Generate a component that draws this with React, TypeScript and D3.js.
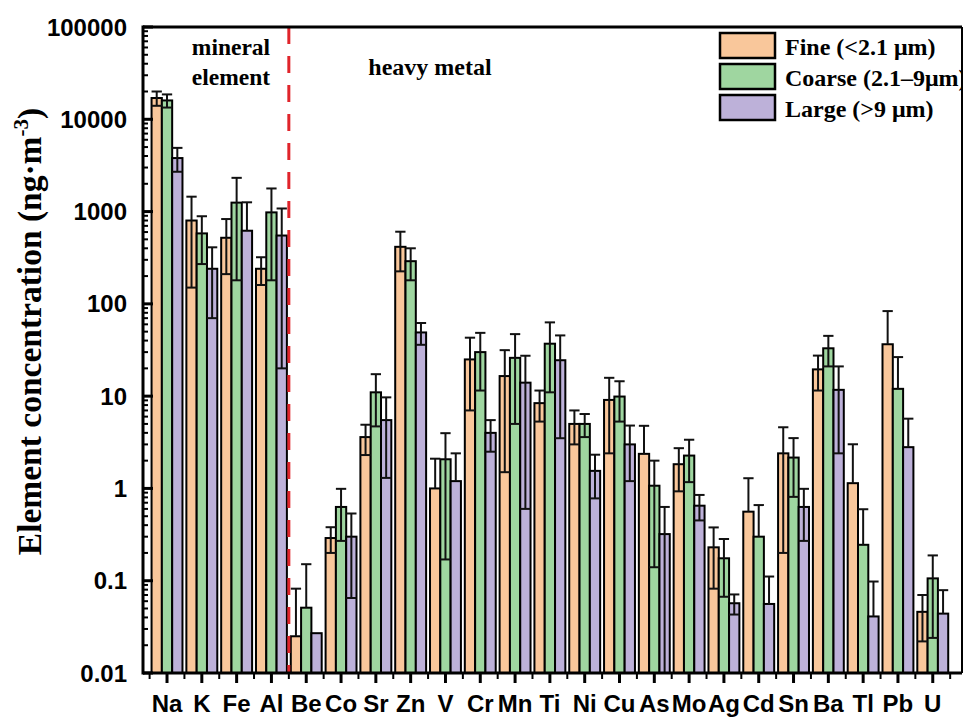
import React from 'react';
import * as d3 from 'd3';

const elements = ['Na', 'K', 'Fe', 'Al', 'Be', 'Co', 'Sr', 'Zn', 'V', 'Cr', 'Mn', 'Ti', 'Ni', 'Cu', 'As', 'Mo', 'Ag', 'Cd', 'Sn', 'Ba', 'Tl', 'Pb', 'U'];

const fineMean = [17000, 800, 520, 240, 0.025, 0.29, 3.6, 415, 1.0, 25, 16.5, 8.4, 5.0, 9.1, 2.37, 1.83, 0.23, 0.56, 2.4, 19.5, 1.14, 36.5, 0.046];
const fineErr = [3000, 650, 310, 80, 0.057, 0.09, 1.3, 190, 1.1, 18, 15, 3.1, 2, 6.7, 2.4, 0.9, 0.148, 0.73, 2.2, 8, 1.87, 47, 0.024];

const coarseMean = [16000, 580, 1250, 980, 0.051, 0.63, 11, 290, 2.07, 30, 26, 37, 5.0, 9.9, 1.07, 2.27, 0.175, 0.3, 2.16, 33, 0.245, 12, 0.106];
const coarseErr = [2600, 310, 1070, 800, 0.1, 0.36, 6.3, 110, 1.9, 18.5, 21, 26, 1.4, 4.6, 0.93, 1.1, 0.108, 0.36, 1.35, 12, 0.35, 14.5, 0.082];

const largeMean = [3800, 240, 620, 550, 0.027, 0.3, 5.5, 49, 1.2, 4.0, 14, 24.5, 1.55, 3.0, 0.32, 0.65, 0.057, 0.056, 0.63, 11.7, 0.041, 2.8, 0.044];
const largeErr = [1100, 170, 640, 530, 0, 0.235, 4.2, 13, 1.2, 1.5, 13.4, 21, 0.77, 1.8, 0.31, 0.2, 0.014, 0.055, 0.36, 9.3, 0.057, 2.9, 0.035];

const seriesNames = ['Fine (<2.1 μm)', 'Coarse (2.1–9μm)', 'Large (>9 μm)'];
const seriesColors = ['#F9C79B', '#9FD6A0', '#BDB1D9'];
const yTicks = [0.01, 0.1, 1, 10, 100, 1000, 10000, 100000];
const yTickLabels = ['0.01', '0.1', '1', '10', '100', '1000', '10000', '100000'];

const W = 967;
const H = 718;
const left = 143;
const right = 962;
const top = 27;
const bottom = 673;

const series = [
  { mean: fineMean, err: fineErr },
  { mean: coarseMean, err: coarseErr },
  { mean: largeMean, err: largeErr },
];

const App = () => {
  const x = d3.scaleLinear().domain([0.31, 23.84]).range([left, right]);
  const y = d3.scaleLog().domain([0.01, 100000]).range([bottom, top]);
  const step = x(2) - x(1);
  const bw = step * 0.296;

  const minorY: number[] = [];
  for (let e = -2; e < 5; e++) {
    for (let m = 2; m < 10; m++) minorY.push(m * Math.pow(10, e));
  }
  const minorX = d3.range(0.5, 24, 1).filter(v => v > 0.31 && v < 23.84);

  const serif = '"Liberation Serif", "Times New Roman", serif';
  const sans = '"Liberation Sans", Arial, sans-serif';

  return (
    <svg width={W} height={H} style={{ position: 'absolute', left: 0, top: 0, background: '#fff' }}>
      <defs>
        <clipPath id="plot">
          <rect x={left} y={top} width={right - left} height={bottom - top} />
        </clipPath>
      </defs>

      {/* bars and error bars */}
      <g clipPath="url(#plot)">
        {series.map((s, si) =>
          elements.map((el, i) => {
            const cx = x(i + 1) + (si - 1) * bw;
            const yv = y(s.mean[i]);
            return (
              <rect key={`b${si}-${el}`} x={cx - bw / 2} y={yv} width={bw} height={bottom - yv}
                fill={seriesColors[si]} stroke="#000" strokeWidth={2} />
            );
          })
        )}
        {series.map((s, si) =>
          elements.map((el, i) => {
            if (!s.err[i]) return null;
            const cx = x(i + 1) + (si - 1) * bw;
            const hi = y(s.mean[i] + s.err[i]);
            const lowVal = s.mean[i] - s.err[i];
            const yv = y(s.mean[i]);
            const cap = bw * 0.5;
            return (
              <g key={`e${si}-${el}`} stroke="#111" strokeWidth={2}>
                <line x1={cx} x2={cx} y1={yv} y2={hi} />
                <line x1={cx - cap} x2={cx + cap} y1={hi} y2={hi} />
                {lowVal > 0.01 && (
                  <>
                    <line x1={cx} x2={cx} y1={yv} y2={y(lowVal)} />
                    <line x1={cx - cap} x2={cx + cap} y1={y(lowVal)} y2={y(lowVal)} />
                  </>
                )}
              </g>
            );
          })
        )}
      </g>

      {/* separator */}
      <line x1={x(4.5)} x2={x(4.5)} y1={top} y2={bottom} stroke="#E0242B" strokeWidth={3} strokeDasharray="17,12" />

      {/* annotations */}
      <text x={231} y={55} textAnchor="middle" fontFamily={serif} fontWeight="bold" fontSize={23.5}>mineral</text>
      <text x={231} y={85} textAnchor="middle" fontFamily={serif} fontWeight="bold" fontSize={23.5}>element</text>
      <text x={430} y={75} textAnchor="middle" fontFamily={serif} fontWeight="bold" fontSize={24}>heavy metal</text>

      {/* y ticks */}
      {yTicks.map(t => (
        <line key={`ym${t}`} x1={left} x2={left + 10} y1={y(t)} y2={y(t)} stroke="#000" strokeWidth={3} />
      ))}
      {minorY.map(t => (
        <line key={`yn${t}`} x1={left} x2={left + 5} y1={y(t)} y2={y(t)} stroke="#000" strokeWidth={2} />
      ))}
      {yTicks.map((t, i) => (
        <text key={`yl${t}`} x={127} y={y(t)} dy="0.36em" textAnchor="end" fontFamily={sans} fontWeight="bold" fontSize={24}>
          {yTickLabels[i]}
        </text>
      ))}

      {/* x ticks */}
      {elements.map((el, i) => (
        <line key={`xm${el}`} x1={x(i + 1)} x2={x(i + 1)} y1={bottom} y2={bottom + 10} stroke="#000" strokeWidth={3} />
      ))}
      {minorX.map(v => (
        <line key={`xn${v}`} x1={x(v)} x2={x(v)} y1={bottom} y2={bottom + 6} stroke="#000" strokeWidth={2} />
      ))}
      {elements.map((el, i) => (
        <text key={`xl${el}`} x={x(i + 1)} y={712} textAnchor="middle" fontFamily={sans} fontWeight="bold" fontSize={24}>
          {el}
        </text>
      ))}

      {/* frame */}
      <line x1={left} x2={left} y1={top - 1.5} y2={bottom + 1.5} stroke="#000" strokeWidth={3} />
      <line x1={left} x2={right} y1={bottom} y2={bottom} stroke="#000" strokeWidth={3} />
      <line x1={left} x2={right} y1={top} y2={top} stroke="#000" strokeWidth={3} />
      <line x1={right} x2={right} y1={top} y2={bottom} stroke="#000" strokeWidth={2} />

      {/* y title */}
      <text transform={`translate(41,${(103 + 560) / 2}) rotate(-90)`} textAnchor="middle" fontFamily={serif} fontWeight="bold" fontSize={33.5}>
        Element concentration (ng·m<tspan dy="-13" fontSize={21}>-3</tspan><tspan dy="13">)</tspan>
      </text>

      {/* legend */}
      <g clipPath="url(#plot)">
        {seriesNames.map((name, i) => (
          <g key={name} transform={`translate(720,${33 + i * 31})`}>
            <rect width={55} height={25} fill={seriesColors[i]} stroke="#000" strokeWidth={2.5} />
            <text x={65} y={22} fontFamily={serif} fontWeight="bold" fontSize={24}>{name}</text>
          </g>
        ))}
      </g>
    </svg>
  );
};

export default App;
